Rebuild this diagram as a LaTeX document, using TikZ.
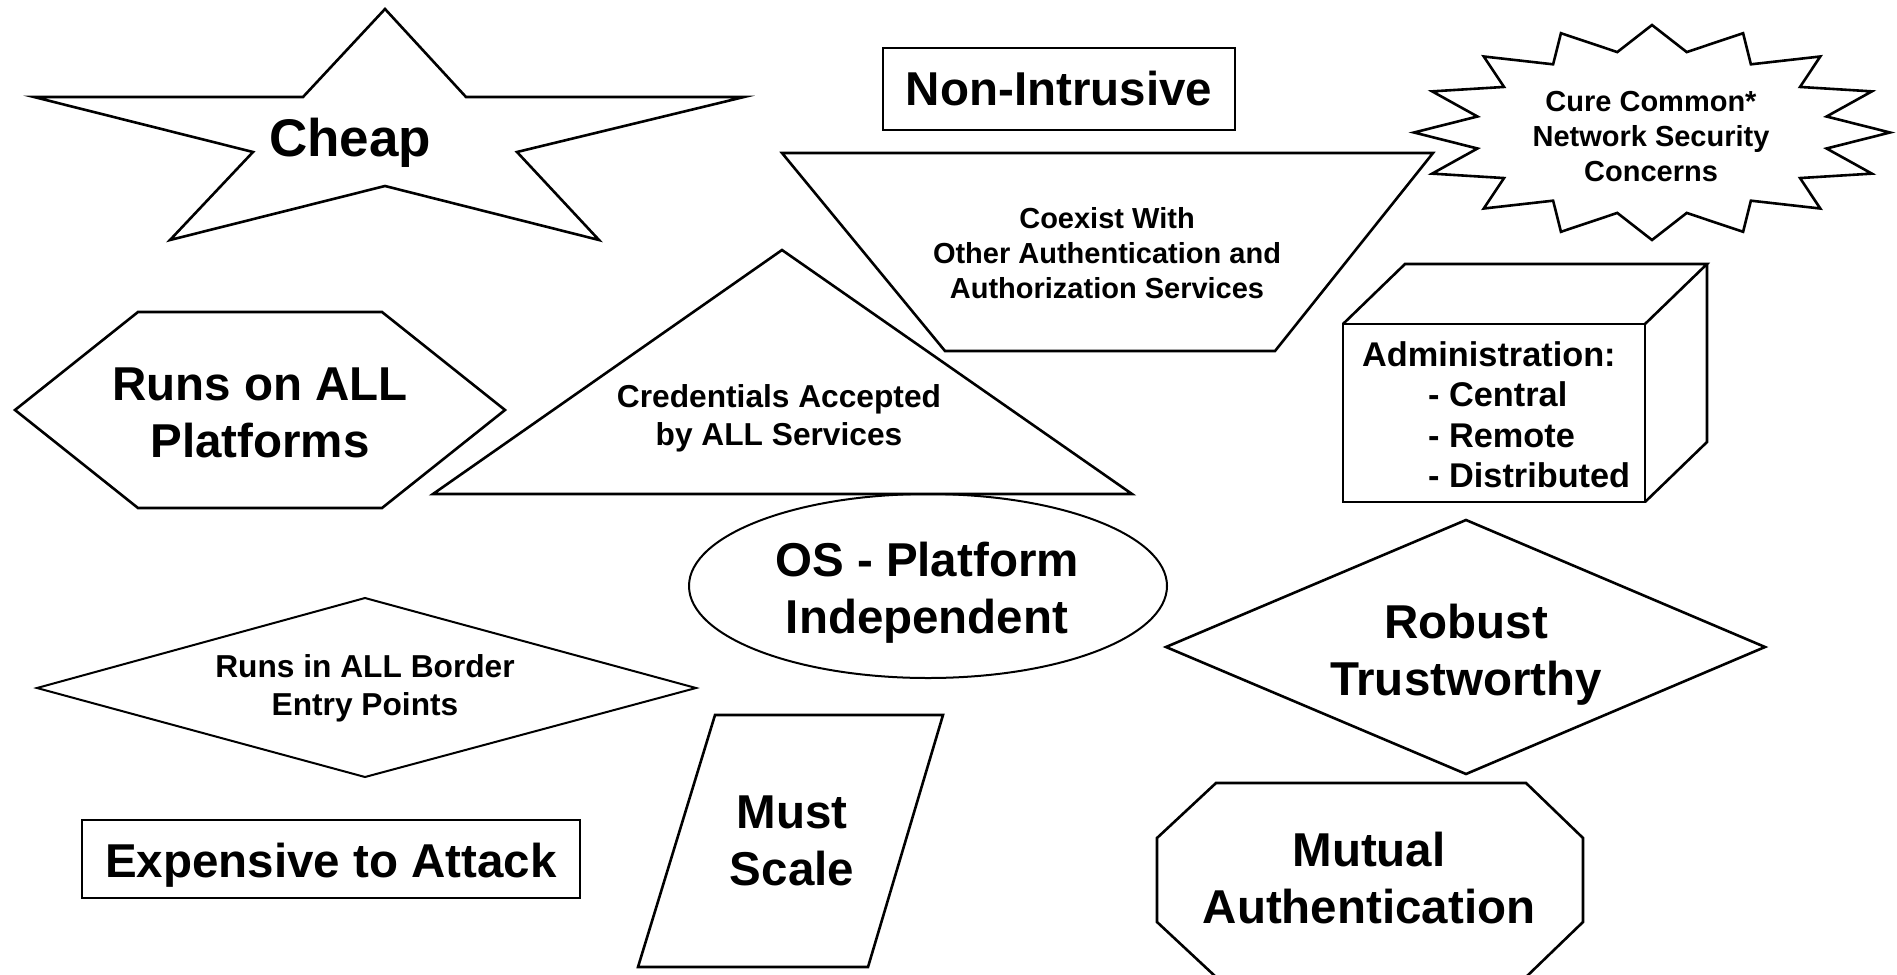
\documentclass[tikz,border=0pt]{standalone}
\usepackage{fontspec}
\setmainfont{Liberation Sans}
\newcommand\fsCheap{\fontsize{53}{63.6}\selectfont\bfseries}
\newcommand\fsBig{\fontsize{47.5}{57}\selectfont\bfseries}
\newcommand\fsAdmin{\fontsize{34.3}{40.5}\selectfont\bfseries}
\newcommand\fsMid{\fontsize{31.7}{38}\selectfont\bfseries}
\newcommand\fsSmall{\fontsize{29}{35}\selectfont\bfseries}
\begin{document}
\begin{tikzpicture}[x=1pt,y=-1pt,
  outline/.style={draw=black, line width=2.6pt, line join=miter},
  thinline/.style={draw=black, line width=2pt, line join=miter},
  txt/.style={inner sep=0pt, align=center, text=black},
  cheaptext/.style={txt, font=\fsCheap},
  bigtext/.style={txt, font=\fsBig},
  admintext/.style={txt, align=left, font=\fsAdmin},
  midtext/.style={txt, font=\fsMid},
  smalltext/.style={txt, font=\fsSmall}]
\useasboundingbox[fill=white] (0,0) rectangle (1897,974);

% five-pointed star
\draw[outline] (385,9) -- (466,97) -- (744,97) -- (517,152) -- (599,240)
  -- (385,186) -- (170,240) -- (253,152) -- (34,97) -- (303,97) -- cycle;
\node[cheaptext] (cheap) at (350,143) {Cheap};

% plain box
\draw[outline] (883,48) rectangle (1235,130);
\node[bigtext] (nonintrusive) at (1059,89) {Non-Intrusive};

% sixteen-point burst
\draw[outline] plot[variable=\k, samples at={0,...,31}]
  ({1652 + (208 + 30*cos(180*\k))*sin(11.25*\k)},
   {132.5 - (94.75 + 12.75*cos(180*\k))*cos(11.25*\k)}) -- cycle;
\node[smalltext] (cure) at (1651,137) {Cure Common*\\Network Security\\Concerns};

% inverted trapezoid
\draw[outline] (782,153) -- (1433,153) -- (1275,351) -- (945,351) -- cycle;
\node[smalltext] (coexist) at (1107,253) {Coexist With\\Other Authentication and\\Authorization Services};

% cube
\draw[outline] (1343,324) rectangle (1645,502);
\draw[outline] (1343,324) -- (1405,264) -- (1707,264) -- (1645,324);
\draw[outline] (1707,264) -- (1707,442) -- (1645,502);
\node[admintext, anchor=north west] (admin) at (1362,341)
  {Administration:\\\hspace*{66pt}- Central\\\hspace*{66pt}- Remote\\\hspace*{66pt}- Distributed};

% hexagon
\draw[outline] (15,410) -- (138,312) -- (382,312) -- (505,410) -- (382,508) -- (138,508) -- cycle;
\node[bigtext] (platforms) at (260,413) {Runs on ALL\\Platforms};

% triangle
\draw[outline] (782,250) -- (1132,494) -- (433,494) -- cycle;
\node[midtext] (credentials) at (779,418) {Credentials Accepted\\by ALL Services};

% ellipse
\draw[thinline] (928,586) ellipse [x radius=239, y radius=92];
\node[bigtext] (os) at (927,593) {OS - Platform\\Independent};

% left diamond
\draw[thinline] (37,688) -- (365,598) -- (696,688) -- (365,777) -- cycle;
\node[midtext] (border) at (365,688) {Runs in ALL Border\\Entry Points};

% box at lower left
\draw[outline] (82,820) rectangle (580,898);
\node[bigtext] (expensive) at (331,865) {Expensive to Attack};

% parallelogram
\draw[outline] (715,715) -- (943,715) -- (868,967) -- (638,967) -- cycle;
\node[bigtext] (scale) at (792,841) {Must\\Scale};

% right diamond
\draw[outline] (1166,647) -- (1466,520) -- (1765,647) -- (1466,774) -- cycle;
\node[bigtext] (robust) at (1466,655) {Robust\\Trustworthy};

% octagon
\draw[outline] (1216,783) -- (1526,783) -- (1583,838) -- (1583,922) -- (1526,977)
  -- (1216,977) -- (1157,922) -- (1157,838) -- cycle;
\node[bigtext] (mutual) at (1369,878) {Mutual\\Authentication};
\end{tikzpicture}
\end{document}
